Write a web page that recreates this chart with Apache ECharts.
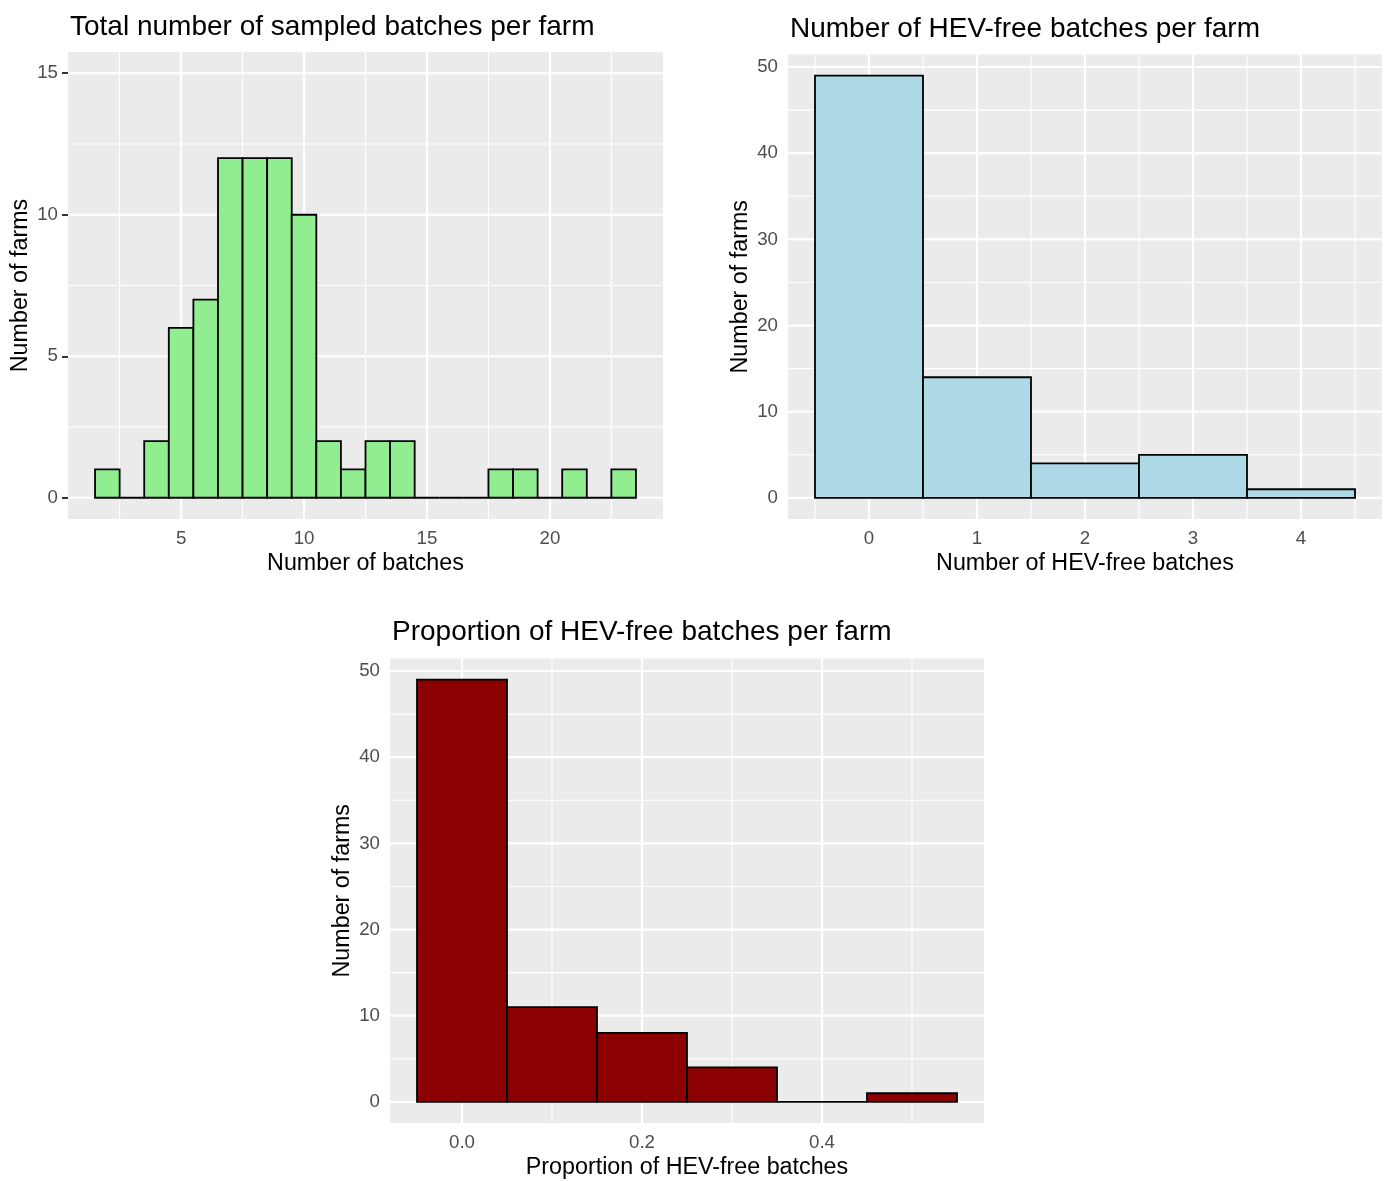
<!DOCTYPE html>
<html>
<head>
<meta charset="utf-8">
<script src="https://cdn.jsdelivr.net/npm/echarts@6/dist/echarts.min.js"></script>
<style>
html,body{margin:0;padding:0;background:#fff;}
#c{width:1386px;height:1181px;}
</style>
</head>
<body>
<div id="c"></div>
<script>
// ---- data ----
var batchCenters = [2,3,4,5,6,7,8,9,10,11,12,13,14,15,16,17,18,19,20,21,22,23];
var batchCounts  = [1,0,2,6,7,12,12,12,10,2,1,2,2,0,0,0,1,1,0,1,0,1];
var freeCenters  = [0,1,2,3,4];
var freeCounts   = [49,14,4,5,1];
var propCenters  = [0,0.1,0.2,0.3,0.4,0.5];
var propCounts   = [49,11,8,4,0,1];

var titles = ['Total number of sampled batches per farm','Number of HEV-free batches per farm','Proportion of HEV-free batches per farm'];
var xNames = ['Number of batches','Number of HEV-free batches','Proportion of HEV-free batches'];
var yName = 'Number of farms';

var xTicks1 = [5,10,15,20], xMinor1 = [2.5,7.5,12.5,17.5,22.5];
var yTicks1 = [0,5,10,15], yMinor1 = [2.5,7.5,12.5];
var xTicks2 = [0,1,2,3,4], xMinor2 = [-0.5,0.5,1.5,2.5,3.5,4.5];
var yTicks2 = [0,10,20,30,40,50], yMinor2 = [5,15,25,35,45];
var xTicks3 = [0,0.2,0.4], xMinor3 = [0.1,0.3,0.5];
var yTicks3 = yTicks2, yMinor3 = yMinor2;

// ---- layout / style ----
var FONT = 'Liberation Sans, Arial, sans-serif';
var grids = [
  {left:68, top:52, width:595, height:467},
  {left:788, top:54.5, width:594, height:464.5},
  {left:390, top:658.5, width:594, height:464.5}
];
var xr = [[0.4,24.6],[-0.75,4.75],[-0.08,0.58]];
var yr = [[-0.75,15.75],[-2.45,51.45],[-2.45,51.45]];
var fills = ['#90EE90','#ADD8E6','#8B0000'];
var binW = [1,1,0.1];

function xAxis(i, ticks, fmt){
  return {
    type:'value', gridIndex:i, min:xr[i][0], max:xr[i][1],
    name:xNames[i], nameLocation:'middle', nameGap:33,
    nameTextStyle:{color:'#000', fontSize:23.3, fontFamily:FONT},
    axisLine:{show:false},
    axisTick:{show:true, length:6, lineStyle:{color:'#333', width:2}, customValues:ticks},
    axisLabel:{color:'#4D4D4D', fontSize:18.7, fontFamily:FONT, margin:10, customValues:ticks,
      formatter: fmt || function(v){return String(v);}},
    splitLine:{show:false}
  };
}
function yAxis(i, ticks){
  return {
    type:'value', gridIndex:i, min:yr[i][0], max:yr[i][1],
    name:yName, nameLocation:'middle', nameGap:36, nameRotate:90,
    nameTextStyle:{color:'#000', fontSize:23.3, fontFamily:FONT},
    axisLine:{show:false},
    axisTick:{show:true, length:6, lineStyle:{color:'#333', width:2}, customValues:ticks},
    axisLabel:{color:'#4D4D4D', fontSize:18.7, fontFamily:FONT, margin:10, customValues:ticks},
    splitLine:{show:false}
  };
}

function gridSeries(i, xMaj, xMin, yMaj, yMin){
  var d = [];
  xMin.forEach(function(v){ d.push([v,1,0]); });
  yMin.forEach(function(v){ d.push([v,0,0]); });
  xMaj.forEach(function(v){ d.push([v,1,1]); });
  yMaj.forEach(function(v){ d.push([v,0,1]); });
  return {
    type:'custom', xAxisIndex:i, yAxisIndex:i, z:1, silent:true,
    data:d, encode:{x:0},
    renderItem:function(params, api){
      var cs = params.coordSys;
      var v = api.value(0), vert = api.value(1), major = api.value(2);
      var shape;
      if (vert) {
        var x = api.coord([v, yr[i][0]])[0];
        shape = {x1:x, y1:cs.y, x2:x, y2:cs.y+cs.height};
      } else {
        var y = api.coord([xr[i][0], v])[1];
        shape = {x1:cs.x, y1:y, x2:cs.x+cs.width, y2:y};
      }
      return {type:'line', shape:shape, style:{stroke:'#FFFFFF', lineWidth: major ? 2.2 : 1.1}};
    }
  };
}

function barSeries(i, centers, counts){
  var d = centers.map(function(c, k){ return [c, counts[k]]; });
  return {
    type:'custom', xAxisIndex:i, yAxisIndex:i, z:2, silent:true,
    data:d, encode:{x:0, y:1},
    renderItem:function(params, api){
      var c = api.value(0), n = api.value(1);
      var p0 = api.coord([c - binW[i]/2, n]);
      var p1 = api.coord([c + binW[i]/2, 0]);
      return {type:'rect', shape:{x:p0[0], y:p0[1], width:p1[0]-p0[0], height:p1[1]-p0[1]},
        style:{fill:fills[i], stroke:'#000', lineWidth:1.8}};
    }
  };
}

var tStyle = {color:'#000', fontSize:28, fontWeight:'normal', fontFamily:FONT};
var chart = echarts.init(document.getElementById('c'), null, {renderer:'canvas'});
chart.setOption({
  backgroundColor:'#FFFFFF',
  animation:false,
  title:[
    {text:titles[0], left:70, top:13, padding:0, textStyle:tStyle},
    {text:titles[1], left:790, top:15, padding:0, textStyle:tStyle},
    {text:titles[2], left:392, top:618, padding:0, textStyle:tStyle}
  ],
  grid: grids.map(function(g){ return Object.assign({show:true, backgroundColor:'#EBEBEB', borderWidth:0, containLabel:false}, g); }),
  xAxis:[
    xAxis(0, xTicks1),
    xAxis(1, xTicks2),
    xAxis(2, xTicks3, function(v){ return Number(v).toFixed(1); })
  ],
  yAxis:[ yAxis(0, yTicks1), yAxis(1, yTicks2), yAxis(2, yTicks3) ],
  series:[
    gridSeries(0, xTicks1, xMinor1, yTicks1, yMinor1),
    gridSeries(1, xTicks2, xMinor2, yTicks2, yMinor2),
    gridSeries(2, xTicks3, xMinor3, yTicks3, yMinor3),
    barSeries(0, batchCenters, batchCounts),
    barSeries(1, freeCenters, freeCounts),
    barSeries(2, propCenters, propCounts)
  ]
});
</script>
</body>
</html>
